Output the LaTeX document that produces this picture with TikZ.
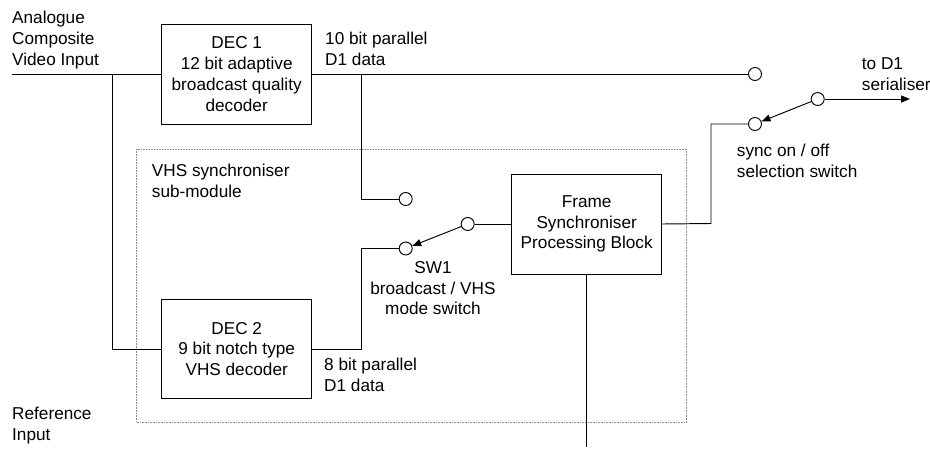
\documentclass[tikz,border=0pt]{standalone}
\usepackage{fontspec}
\setmainfont{Liberation Sans}
\usetikzlibrary{arrows.meta}
\newcommand\capstrut{\rule{0pt}{12.3pt}}
\begin{document}
\begin{tikzpicture}[x=1pt,y=-1pt,
  every node/.style={font=\fontsize{17.2pt}{20.8pt}\selectfont},
  blockbox/.style={draw,line width=0.95pt,minimum width=150pt,minimum height=100pt,align=center,inner sep=0pt},
  contact/.style={draw,circle,fill=white,line width=0.95pt,minimum size=13pt,inner sep=0pt},
  lbl/.style={anchor=north west,align=left,inner sep=0pt},
  wire/.style={line width=0.95pt},
  swarrow/.style={line width=0.95pt,-{Triangle[length=9pt,width=7pt]}},
  modulebox/.style={line width=0.7pt,gray!90,dash pattern=on 0.8pt off 0.8pt}]
\useasboundingbox (0,0) rectangle (930,448);
% sub-module
\draw[modulebox] (136.7,149) rectangle (686.5,422.5);
% blocks
\node[blockbox] (dec1) at (236.7,74) {DEC 1\\12 bit adaptive\\broadcast quality\\decoder};
\node[blockbox,minimum height=99pt] (dec2) at (236.7,349) {DEC 2\\9 bit notch type\\VHS decoder};
\node[blockbox] (fs) at (586.7,224) {Frame\\Synchroniser\\Processing Block};
% contacts
\node[contact] (c1) at (755,74) {};
\node[contact] (c2) at (817.7,99) {};
\node[contact] (c3) at (755,124) {};
\node[contact] (c4) at (405.7,199) {};
\node[contact] (c5) at (467.7,224) {};
\node[contact] (c6) at (405.7,248.5) {};
% free ends and corners
\coordinate (in) at (11.7,74);
\coordinate (j1) at (112,74);
\coordinate (j2) at (361.7,74);
\coordinate (k1) at (361.7,349);
\coordinate (k2) at (711,223.5);
\coordinate (out) at (910,99);
\coordinate (ref) at (586.7,447);
% wires
\draw[wire] (in) -- (dec1.west);
\draw[wire] (j1) |- (dec2.west);
\draw[wire] (dec1.east) -- (c1.west);
\draw[wire] (j2) |- (c4.west);
\draw[wire] (dec2.east) -- (k1) |- (c6.west);
\draw[wire] (c5.east) -- (fs.west);
\draw[wire] (fs.east) -- (k2) |- (c3.west);
\draw[wire] (fs.south) -- (ref);
\draw[swarrow] (c5) -- (c6);
\draw[swarrow] (c2) -- (c3);
\draw[swarrow] (c2.east) -- (out);
% labels
\node[lbl] (t1) at (12,10.8) {\capstrut Analogue\\Composite\\Video Input};
\node[lbl] (t2) at (325,31.8) {\capstrut 10 bit parallel\\D1 data};
\node[lbl] (t3) at (861.7,56.8) {\capstrut to D1\\serialiser};
\node[lbl] (t4) at (736.7,143.8) {\capstrut sync on / off\\selection switch};
\node[lbl] (t5) at (151.7,163.8) {\capstrut VHS synchroniser\\sub-module};
\node[anchor=north,align=center,inner sep=0pt] (t6) at (433,260.8) {\capstrut SW1\\broadcast / VHS\\mode switch};
\node[lbl] (t7) at (324,357.8) {\capstrut 8 bit parallel\\D1 data};
\node[lbl] (t8) at (12,406.8) {\capstrut Reference\\Input};
\end{tikzpicture}
\end{document}
